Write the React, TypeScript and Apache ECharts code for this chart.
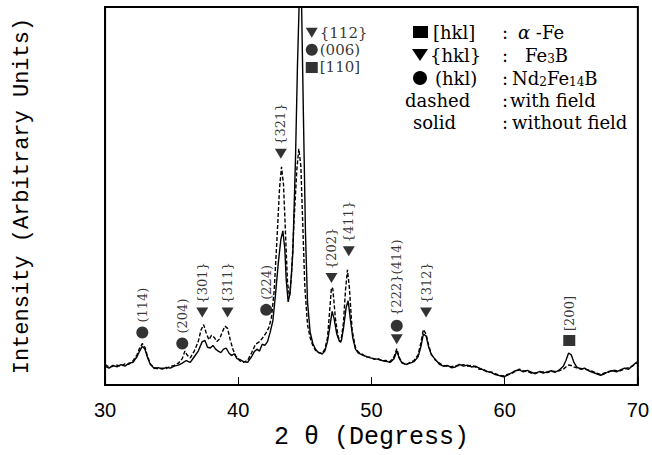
import React, { useEffect, useRef } from "react";
import * as echarts from "echarts";

// ---- data (2θ in degrees, intensity in arbitrary units 0-100) ----
const solidAngles = [
  30.0, 30.3, 30.6, 30.9, 31.2, 31.5, 31.8, 32.1, 32.4, 32.6, 32.8, 33.0, 33.2, 33.4, 33.7, 34.0, 34.3, 34.6, 34.9,
  35.2, 35.5, 35.8, 36.1, 36.4, 36.7, 37.0, 37.3, 37.5, 37.7, 37.9, 38.1, 38.3, 38.5, 38.7, 38.9, 39.1, 39.3, 39.5,
  39.7, 39.9, 40.1, 40.4, 40.7, 41.0, 41.2, 41.4, 41.6, 41.8, 42.0, 42.2, 42.4, 42.6, 42.8, 43.0, 43.2, 43.35, 43.5,
  43.6, 43.75, 43.9, 44.1, 44.3, 44.45, 44.6, 44.75, 44.9, 45.05, 45.2, 45.4, 45.6, 45.8, 46.0, 46.3, 46.5, 46.7,
  46.9, 47.05, 47.2, 47.4, 47.6, 47.75, 47.9, 48.1, 48.25, 48.4, 48.6, 48.8, 49.0, 49.3, 49.6, 49.9, 50.2, 50.5,
  50.8, 51.1, 51.4, 51.7, 51.9, 52.1, 52.3, 52.6, 52.9, 53.2, 53.5, 53.7, 53.9, 54.1, 54.3, 54.5, 54.8, 55.1, 55.4,
  55.7, 56.0, 56.3, 56.6, 56.9, 57.2, 57.5, 57.8, 58.1, 58.4, 58.7, 59.0, 59.3, 59.6, 59.9, 60.2, 60.5, 60.8, 61.1,
  61.4, 61.7, 62.0, 62.3, 62.6, 62.9, 63.2, 63.5, 63.8, 64.1, 64.4, 64.6, 64.8, 65.0, 65.2, 65.4, 65.7, 66.0, 66.3,
  66.6, 66.9, 67.2, 67.5, 67.8, 68.1, 68.4, 68.7, 69.0, 69.3, 69.6, 69.9, 70.0,
];
const solidCounts = [
  5.0, 4.5, 5.2, 4.8, 5.4, 5.0, 5.8, 6.0, 7.5, 9.0, 10.3, 9.5, 7.2, 5.5, 4.4, 4.6, 4.2, 4.7, 4.5,
  5.0, 5.3, 5.8, 6.5, 6.0, 7.5, 9.0, 11.5, 11.8, 10.0, 9.8, 10.5, 9.5, 9.0, 8.6, 9.5, 9.8, 8.5, 7.8,
  8.3, 7.0, 6.8, 6.2, 6.0, 7.5, 8.8, 9.5, 9.0, 10.8, 10.5, 11.5, 14.0, 17.0, 24.0, 32.0, 38.5, 40.8, 36.0,
  28.0, 22.0, 24.5, 35.0, 60.0, 85.0, 104.0, 102.0, 70.0, 40.0, 22.0, 14.0, 11.0, 9.5, 8.7, 8.2, 9.0, 11.5,
  16.0, 19.5, 17.5, 13.5, 11.5, 11.8, 15.0, 20.5, 22.3, 18.0, 12.5, 9.5, 8.5, 8.0, 7.6, 7.2, 7.0, 6.8,
  6.5, 6.3, 6.0, 7.0, 9.0, 7.0, 5.8, 5.5, 5.8, 6.2, 7.5, 10.0, 13.5, 13.0, 10.0, 8.0, 6.8, 5.5, 5.0,
  5.2, 4.6, 4.8, 5.5, 5.0, 5.3, 4.8, 5.0, 4.5, 4.0, 3.6, 3.3, 2.8, 2.5, 2.2, 2.6, 3.2, 3.8, 4.0,
  3.5, 3.9, 3.4, 3.0, 3.6, 3.2, 3.5, 3.8, 3.4, 4.0, 5.0, 6.5, 8.5, 8.0, 6.0, 4.8, 4.2, 4.5, 3.8,
  3.4, 3.0, 2.6, 3.0, 3.6, 3.8, 3.5, 4.0, 4.5, 4.2, 5.2, 6.0, 6.2,
];

const dashedAngles = [
  30.0, 30.3, 30.6, 30.9, 31.2, 31.5, 31.8, 32.1, 32.4, 32.6, 32.8, 33.0, 33.2, 33.4, 33.7, 34.0, 34.3, 34.6, 34.9,
  35.2, 35.5, 35.8, 36.0, 36.2, 36.4, 36.7, 37.0, 37.2, 37.4, 37.6, 37.8, 38.0, 38.2, 38.4, 38.6, 38.8, 39.0, 39.2,
  39.4, 39.6, 39.8, 40.1, 40.4, 40.7, 41.0, 41.3, 41.6, 41.9, 42.1, 42.3, 42.5, 42.7, 42.9, 43.1, 43.25, 43.4, 43.55,
  43.7, 43.85, 44.0, 44.2, 44.4, 44.55, 44.7, 44.85, 45.0, 45.2, 45.4, 45.6, 45.8, 46.0, 46.3, 46.5, 46.7, 46.85,
  47.0, 47.1, 47.3, 47.5, 47.7, 47.9, 48.05, 48.2, 48.35, 48.55, 48.8, 49.0, 49.3, 49.6, 49.9, 50.2, 50.5, 50.8,
  51.1, 51.4, 51.7, 51.9, 52.1, 52.3, 52.6, 52.9, 53.2, 53.5, 53.7, 53.9, 54.1, 54.3, 54.5, 54.8, 55.1, 55.4, 55.7,
  56.0, 56.3, 56.6, 56.9, 57.2, 57.5, 57.8, 58.1, 58.4, 58.7, 59.0, 59.3, 59.6, 59.9, 60.2, 60.5, 60.8, 61.1, 61.4,
  61.7, 62.0, 62.3, 62.6, 62.9, 63.2, 63.5, 63.8, 64.1, 64.4, 64.6, 64.8, 65.0, 65.2, 65.4, 65.7, 66.0, 66.3, 66.6,
  66.9, 67.2, 67.5, 67.8, 68.1, 68.4, 68.7, 69.0, 69.3, 69.6, 69.9, 70.0,
];
const dashedCounts = [
  5.4, 4.8, 5.0, 5.3, 5.0, 5.6, 5.5, 6.4, 8.0, 9.8, 11.0, 10.0, 7.5, 5.6, 4.6, 4.3, 4.5, 4.4, 4.9,
  5.2, 5.8, 7.0, 9.0, 7.8, 7.2, 9.0, 11.5, 14.5, 16.0, 13.8, 12.0, 13.2, 12.6, 11.5, 12.2, 14.0, 15.6, 15.0,
  12.0, 9.5, 7.8, 6.5, 6.0, 6.5, 8.5, 10.8, 11.5, 12.8, 13.9, 15.2, 18.0, 25.0, 38.0, 52.0, 57.7, 53.0, 40.0,
  27.0, 23.5, 29.0, 44.0, 57.0, 62.5, 58.0, 42.0, 26.0, 16.0, 12.5, 10.5, 9.2, 8.6, 8.4, 9.5, 12.5, 19.0,
  25.8, 25.5, 17.5, 12.8, 11.3, 16.5, 25.0, 30.5, 25.5, 14.5, 10.0, 8.8, 8.2, 7.4, 7.4, 6.8, 7.0, 6.4,
  6.5, 6.2, 7.5, 9.6, 7.2, 6.0, 5.4, 6.0, 6.5, 8.0, 11.0, 14.7, 13.5, 10.5, 8.2, 6.6, 5.8, 5.2, 5.0,
  4.9, 5.1, 5.2, 5.4, 5.0, 5.2, 4.8, 4.2, 4.2, 3.4, 3.5, 3.0, 2.6, 2.4, 2.8, 3.0, 3.6, 4.2, 3.8,
  3.6, 3.2, 3.2, 3.4, 3.5, 3.3, 3.6, 3.6, 3.8, 4.2, 4.8, 5.3, 5.2, 4.8, 4.6, 4.4, 4.2, 4.0, 3.6,
  3.2, 2.8, 3.2, 3.4, 4.0, 3.8, 3.8, 4.3, 4.6, 5.0, 5.8, 6.0,
];

// Peak annotations: [2θ, level, label]
const ndPeaks: [number, number, string][] = [
  [32.8, 13.9, "(114)"],
  [35.8, 11.0, "(204)"],
  [42.1, 19.9, "(224)"],
  [51.9, 15.7, "{222}(414)"],
];
const fe3bPeaks: [number, number, string][] = [
  [37.3, 19.2, "{301}"],
  [39.2, 19.2, "{311}"],
  [43.2, 61.2, "{321}"],
  [47.0, 28.3, "{202}"],
  [48.3, 35.4, "{411}"],
  [51.9, 12.1, ""],
  [54.1, 19.2, "{312}"],
];
const fePeaks: [number, number, string][] = [[64.85, 11.8, "[200]"]];
// stacked labels at the main peak
const mainPeakStack: [number, number, string, string][] = [
  [45.52, 93.2, "{112}", "triangle"],
  [45.52, 88.7, "(006)", "circle"],
  [45.52, 84.0, "[110]", "rect"],
];

const xTicks = [30, 40, 50, 60, 70];

const SERIF = "DejaVu Serif";
const MONO = "Liberation Mono";

export default function App() {
  const ref = useRef<HTMLDivElement>(null);

  useEffect(() => {
    if (!ref.current) return;
    const chart = echarts.init(ref.current, null, { renderer: "svg" });

    const solid = solidAngles.map((a, i) => [a, solidCounts[i]]);
    const dashed = dashedAngles.map((a, i) => [a, dashedCounts[i]]);

    const rotLabel = {
      show: true,
      formatter: "{b}",
      position: "top",
      distance: 4,
      rotate: 90,
      align: "left",
      verticalAlign: "middle",
      fontFamily: SERIF,
      fontSize: 13,
      color: "#000",
    };
    const rightLabel = {
      show: true,
      formatter: "{b}",
      position: "right",
      distance: 2,
      rotate: 0,
      align: "left",
      verticalAlign: "middle",
      fontFamily: SERIF,
      fontSize: 15,
      color: "#000",
    };

    const toItems = (arr: [number, number, string][]) =>
      arr.map(([a, l, t]) => ({ value: [a, l], name: t }));

    const stackItems = (shape: string) =>
      mainPeakStack
        .filter((s) => s[3] === shape)
        .map(([a, l, t]) => ({ value: [a, l], name: t, label: rightLabel }));

    const legendRowY = [32, 55, 78, 100, 122];
    const colonX = 502;
    const FS = 18;
    const txt = (text: string, x: number, y: number, rich?: any) => ({
      type: "text",
      style: {
        text,
        x,
        y,
        fill: "#000",
        font: `${FS}px "${SERIF}"`,
        textVerticalAlign: "middle",
        verticalAlign: "middle",
        rich,
      },
    });
    const subRich = {
      sub: { fontFamily: SERIF, fontSize: 12, padding: [8, 0, 0, 0] },
      it: { fontFamily: SERIF, fontSize: FS, fontStyle: "italic" },
      n: { fontFamily: SERIF, fontSize: FS },
    };

    const plainAxisLine = { show: true, onZero: false, lineStyle: { color: "#000", width: 1.2 } };

    chart.setOption({
      animation: false,
      backgroundColor: "#fff",
      grid: {
        left: 105,
        right: 12,
        top: 7,
        bottom: 67,
        show: true,
        borderWidth: 2,
        borderColor: "#000",
        backgroundColor: "rgba(0,0,0,0)",
        z: 10,
      },
      xAxis: [
        {
          type: "value",
          min: 30,
          max: 70,
          interval: 10,
          axisLine: plainAxisLine,
          axisTick: { show: true, inside: true, length: 8, lineStyle: { color: "#000" } },
          splitLine: { show: false },
          axisLabel: {
            color: "#000",
            fontFamily: "Liberation Sans",
            fontSize: 20,
            margin: 15,
            formatter: (v: number) => (xTicks.includes(v) ? String(v) : ""),
          },
          name: "2 \u03b8 (Degress)",
          nameLocation: "middle",
          nameGap: 37,
          nameTextStyle: { color: "#000", fontFamily: MONO, fontSize: 25 },
        },
      ],
      yAxis: [
        {
          type: "value",
          min: 0,
          max: 100,
          axisLine: plainAxisLine,
          axisTick: { show: false },
          axisLabel: { show: false },
          splitLine: { show: false },
          name: "Intensity (Arbitrary Units)",
          nameLocation: "middle",
          nameGap: 72,
          nameRotate: 90,
          nameTextStyle: { color: "#000", fontFamily: MONO, fontSize: 22 },
        },
      ],
      series: [
        {
          type: "line",
          name: "without field",
          data: solid,
          showSymbol: false,
          clip: true,
          lineStyle: { color: "#000", width: 1.4 },
          z: 3,
        },
        {
          type: "line",
          name: "with field",
          data: dashed,
          showSymbol: false,
          clip: true,
          lineStyle: { color: "#000", width: 1.4, type: [4, 2] },
          z: 3,
        },
        {
          type: "scatter",
          name: "Nd2Fe14B",
          symbol: "circle",
          symbolSize: 12,
          itemStyle: { color: "#000" },
          label: rotLabel,
          data: [...toItems(ndPeaks), ...stackItems("circle")],
          z: 5,
        },
        {
          type: "scatter",
          name: "Fe3B",
          symbol: "triangle",
          symbolRotate: 180,
          symbolSize: [12, 10],
          itemStyle: { color: "#000" },
          label: rotLabel,
          data: [...toItems(fe3bPeaks), ...stackItems("triangle")],
          z: 5,
        },
        {
          type: "scatter",
          name: "alpha-Fe",
          symbol: "rect",
          symbolSize: [12, 11],
          itemStyle: { color: "#000" },
          label: rotLabel,
          data: [...toItems(fePeaks), ...stackItems("rect")],
          z: 5,
        },
      ],
      graphic: [
        { type: "rect", shape: { x: 413, y: legendRowY[0] - 6, width: 15, height: 12 }, style: { fill: "#000" } },
        {
          type: "polygon",
          shape: { points: [[412, legendRowY[1] - 6], [428, legendRowY[1] - 6], [420, legendRowY[1] + 6]] },
          style: { fill: "#000" },
        },
        { type: "circle", shape: { cx: 420, cy: legendRowY[2], r: 7 }, style: { fill: "#000" } },
        txt("[hkl]", 433, legendRowY[0]),
        txt("{hkl}", 430, legendRowY[1]),
        txt("(hkl)", 435, legendRowY[2]),
        txt("dashed", 405, legendRowY[3]),
        txt("solid", 413, legendRowY[4]),
        txt(":", colonX, legendRowY[0]),
        txt(":", colonX, legendRowY[1]),
        txt(":", colonX, legendRowY[2]),
        txt(":", colonX, legendRowY[3]),
        txt(":", colonX, legendRowY[4]),
        txt("{it|\u03b1}{n| -Fe}", 518, legendRowY[0], subRich),
        txt("{n|Fe}{sub|3}{n|B}", 525, legendRowY[1], subRich),
        txt("{n|Nd}{sub|2}{n|Fe}{sub|14}{n|B}", 512, legendRowY[2], subRich),
        txt("with field", 510, legendRowY[3]),
        txt("without field", 512, legendRowY[4]),
      ],
    });

    return () => chart.dispose();
  }, []);

  return (
    <div
      ref={ref}
      style={{ position: "fixed", left: 0, top: 0, width: 652, height: 455, background: "#fff" }}
    />
  );
}
